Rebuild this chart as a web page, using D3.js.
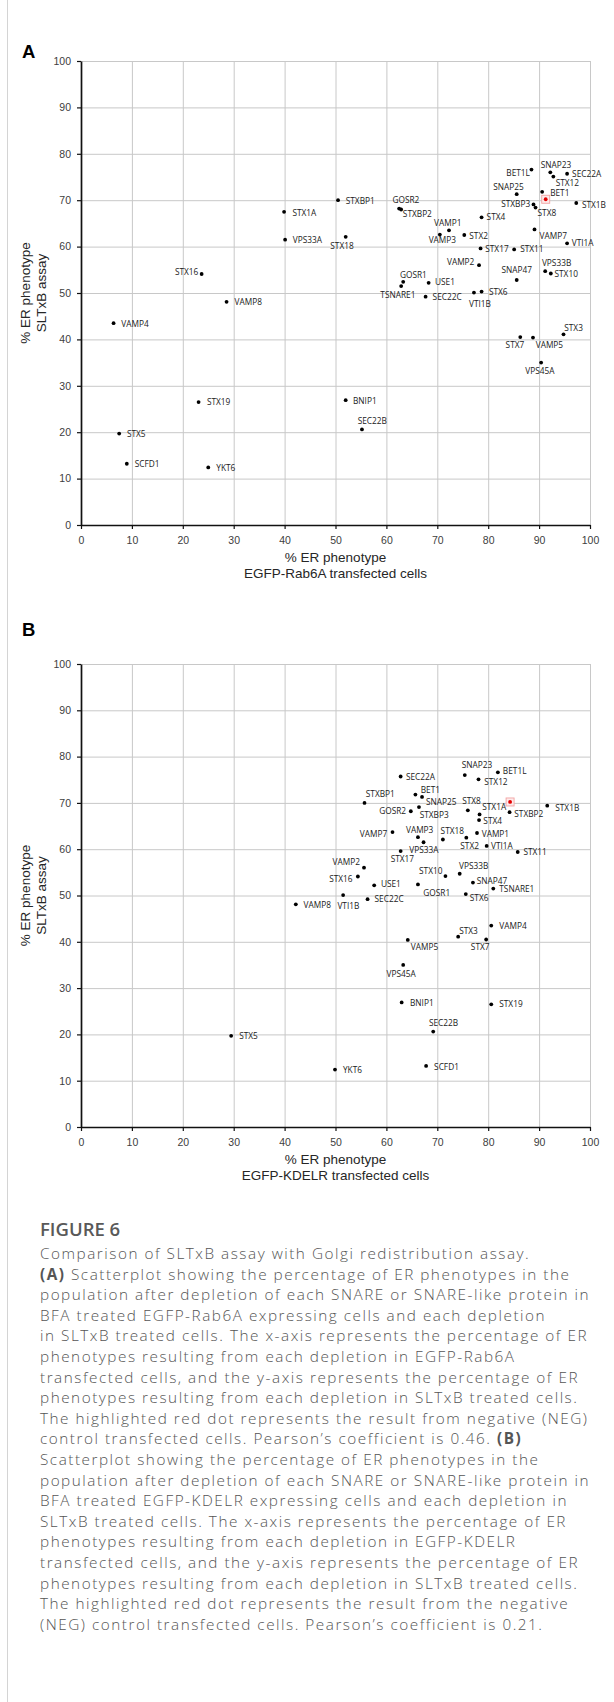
<!DOCTYPE html>
<html><head><meta charset="utf-8">
<script src="https://cdn.jsdelivr.net/npm/d3@7"></script>
<style>body{margin:0;background:#fff} svg{display:block}</style>
</head><body>
<svg id="fig" width="614" height="1702"></svg>
<script>
// ---------- data ----------
const genes = ["BET1L","SNAP23","STX12","SEC22A","SNAP25","BET1","NEG","STXBP3","STX8","STX1B","STXBP1","GOSR2","STXBP2","STX4","VAMP1","VAMP3","STX2","VAMP7","VTI1A","STX18","STX17","STX11","VAMP2","VPS33B","STX10","SNAP47","GOSR1","TSNARE1","USE1","SEC22C","VTI1B","STX6","STX3","STX7","VAMP5","VPS45A","BNIP1","SEC22B","STX1A","VPS33A","STX16","VAMP8","VAMP4","STX19","STX5","SCFD1","YKT6"];
// % ER phenotype, SLTxB assay (y, both panels)
const sltxb = [76.6,76.0,75.1,75.7,71.3,71.8,70.2,69.1,68.4,69.4,70.0,68.2,68.0,66.3,63.5,62.6,62.5,63.7,60.7,62.1,59.6,59.4,56.0,54.7,54.2,52.8,52.4,51.5,52.2,49.2,50.1,50.3,41.1,40.5,40.4,35.0,26.9,20.6,67.5,61.5,54.1,48.1,43.5,26.5,19.7,13.2,12.4];
// % ER phenotype, EGFP-Rab6A transfected cells (x, panel A)
const rab6a = [88.5,92.2,92.8,95.5,85.6,90.6,91.3,88.9,89.3,97.3,50.5,62.5,62.9,78.7,72.3,70.5,75.3,89.1,95.5,52.0,78.5,85.1,78.2,91.2,92.3,85.6,63.3,62.9,68.3,67.7,77.2,78.7,94.8,86.3,88.8,90.4,52.0,55.2,39.9,40.1,23.7,28.6,6.4,23.1,7.5,9.0,25.0];
// % ER phenotype, EGFP-KDELR transfected cells (x, panel B)
const kdelr = [81.9,75.4,78.1,62.8,67.0,65.7,84.3,66.4,76.0,91.6,55.7,64.8,84.2,78.2,77.8,66.2,75.7,61.2,79.7,71.1,62.8,85.8,55.6,74.4,71.6,77.0,66.2,81.0,57.6,56.3,51.5,75.6,74.1,79.6,64.2,63.3,63.0,69.2,78.3,67.3,54.4,42.2,80.6,80.6,29.5,67.8,49.9];
const controlName = "NEG";
const tickValues = [0,10,20,30,40,50,60,70,80,90,100];

// ---------- label placement (anchor, dx, dy relative to the dot) ----------
const placeA = {
  BET1L:["end",-1.5,3.3], SNAP23:["middle",5.7,-7.7], STX12:["start",2.3,6.5], SEC22A:["start",5,0],
  SNAP25:["middle",-8.3,-7.3], BET1:["start",8,0.7], STXBP3:["end",-3.3,0], STX8:["start",2,5],
  STX1B:["start",5.7,2.3], STXBP1:["start",7.7,0.3], GOSR2:["start",-6.7,-8.3], STXBP2:["start",1.7,4.3],
  STX4:["start",5,0], VAMP1:["middle",-1.3,-7.3], VAMP3:["middle",2.5,5], STX2:["start",5,0.7],
  VAMP7:["start",5,6.3], VTI1A:["start",4.7,0], STX18:["middle",-3.7,9], STX17:["start",4.7,0.7],
  STX11:["start",6,0], VAMP2:["end",-4.7,-2.7], VPS33B:["start",-3.3,-8], STX10:["start",3.7,0.7],
  SNAP47:["middle",0,-10], GOSR1:["start",-3.3,-7], TSNARE1:["middle",-3.3,9.3], USE1:["start",6.3,-0.3],
  SEC22C:["start",7,0], VTI1B:["middle",6,11.3], STX6:["start",7.3,0.7], STX3:["start",0.7,-6],
  STX7:["end",4,7.7], VAMP5:["start",2.7,7], VPS45A:["middle",-1.2,8.7], BNIP1:["start",7.3,1],
  SEC22B:["start",-4.3,-8.3], STX1A:["start",8.3,0.7], VPS33A:["start",7.7,0.3], STX16:["end",-3.3,-2],
  VAMP8:["start",8,0.3], VAMP4:["start",7.7,0.7], STX19:["start",8.3,0.3], STX5:["start",7.7,0.3],
  SCFD1:["start",8,0], YKT6:["start",8,0.7]
};
const placeB = {
  SEC22A:["start",5.3,0.7], SNAP23:["start",-3,-9.7], BET1L:["start",5,-1.3], STX12:["start",5.7,2.7],
  STXBP1:["start",1.3,-9.3], BET1:["start",5.3,-5], SNAP25:["start",4,4.7], STX1B:["start",8,2.3],
  STXBP2:["start",4.7,2], STX8:["start",-5.7,-9.3], STX1A:["start",2.7,-7], GOSR2:["end",-4.7,0],
  STXBP3:["start",0.7,8.3], STX4:["start",4.3,1], VAMP7:["end",-5.3,1.7], VAMP1:["start",4.7,0.7],
  VAMP3:["start",-12,-7], STX18:["start",-2.3,-8.3], STX2:["start",-6,8.7], VTI1A:["start",4.3,0],
  STX11:["start",5.7,-0.3], VPS33A:["start",-14.3,8], STX17:["start",-10,8], VAMP2:["end",-4,-5.3],
  STX16:["end",-5.3,2.3], STX10:["end",-3,-5], VPS33B:["start",-0.7,-7.7], SNAP47:["start",3.7,-2],
  USE1:["start",6.7,-1], GOSR1:["start",5.3,8.3], TSNARE1:["start",6,0.3], STX6:["start",4,4],
  VTI1B:["start",-5.7,11.3], VAMP8:["start",7.7,0.3], SEC22C:["start",7,-0.3], VAMP4:["start",8,0.3],
  STX3:["start",1,-5.7], STX7:["start",-15.3,8], VAMP5:["start",3,6.7], VPS45A:["start",-16.7,8.7],
  BNIP1:["start",8.3,0.7], STX19:["start",8,0], SEC22B:["start",-4.3,-9], YKT6:["start",8,0.7],
  SCFD1:["start",8,1], STX5:["start",8,0.3]
};

const captionTitle = "FIGURE 6";
const captionLines = [
  [["Comparison of SLTxB assay with Golgi redistribution assay.",0]],
  [["(A)",1],[" Scatterplot showing the percentage of ER phenotypes in the",0]],
  [["population after depletion of each SNARE or SNARE-like protein in",0]],
  [["BFA treated EGFP-Rab6A expressing cells and each depletion",0]],
  [["in SLTxB treated cells. The x-axis represents the percentage of ER",0]],
  [["phenotypes resulting from each depletion in EGFP-Rab6A",0]],
  [["transfected cells, and the y-axis represents the percentage of ER",0]],
  [["phenotypes resulting from each depletion in SLTxB treated cells.",0]],
  [["The highlighted red dot represents the result from negative (NEG)",0]],
  [["control transfected cells. Pearson\u2019s coefficient is 0.46. ",0],["(B)",1]],
  [["Scatterplot showing the percentage of ER phenotypes in the",0]],
  [["population after depletion of each SNARE or SNARE-like protein in",0]],
  [["BFA treated EGFP-KDELR expressing cells and each depletion in",0]],
  [["SLTxB treated cells. The x-axis represents the percentage of ER",0]],
  [["phenotypes resulting from each depletion in EGFP-KDELR",0]],
  [["transfected cells, and the y-axis represents the percentage of ER",0]],
  [["phenotypes resulting from each depletion in SLTxB treated cells.",0]],
  [["The highlighted red dot represents the result from the negative",0]],
  [["(NEG) control transfected cells. Pearson\u2019s coefficient is 0.21.",0]]
];

// ---------- drawing ----------
const svg = d3.select("#fig");
svg.append("line").attr("x1",7.5).attr("x2",7.5).attr("y1",0).attr("y2",1702)
   .attr("stroke","#d4d4d4").attr("stroke-width",1);

const axisFont = "'Liberation Sans', Arial, sans-serif";
const labelFont = "'Open Sans', 'Noto Sans', sans-serif";

function panel(opt){
  const left = 81, right = 590, top = opt.top, bottom = opt.bottom;
  const x = d3.scaleLinear().domain([0,100]).range([left,right]);
  const y = d3.scaleLinear().domain([0,100]).range([bottom,top]);
  const g = svg.append("g");

  // grid
  g.append("g").attr("transform",`translate(0,${bottom})`)
    .call(d3.axisBottom(x).tickValues(tickValues).tickSize(-(bottom-top)).tickFormat(""))
    .call(s=>s.select(".domain").remove())
    .selectAll("line").attr("stroke","#c8c8c8").attr("stroke-width",1);
  g.append("g").attr("transform",`translate(${left},0)`)
    .call(d3.axisLeft(y).tickValues(tickValues).tickSize(-(right-left)).tickFormat(""))
    .call(s=>s.select(".domain").remove())
    .selectAll("line").attr("stroke","#c8c8c8").attr("stroke-width",1);

  // axes
  const ya = g.append("g").attr("transform",`translate(${left},0)`)
    .call(d3.axisLeft(y).tickValues(tickValues).tickSize(4).tickSizeOuter(0).tickPadding(6));
  const xa = g.append("g").attr("transform",`translate(0,${bottom})`)
    .call(d3.axisBottom(x).tickValues(tickValues).tickSize(4).tickSizeOuter(0).tickPadding(7.5));
  [ya,xa].forEach(a=>{
    a.select(".domain").attr("stroke","#111").attr("stroke-width",1.7);
    a.selectAll(".tick line").attr("stroke","#111").attr("stroke-width",1.2);
    a.selectAll(".tick text").attr("font-family",axisFont).attr("font-size",10.5).attr("fill","#404040");
  });

  // axis titles
  const midX = (left+right)/2, midY = (top+bottom)/2;
  const xt = g.append("text").attr("font-family",axisFont).attr("font-size",13.5).attr("fill","#262626")
    .attr("text-anchor","middle");
  xt.append("tspan").attr("x",midX).attr("y",bottom+37).text("% ER phenotype");
  xt.append("tspan").attr("x",midX).attr("y",bottom+53).text(opt.xTitle);
  const yt = g.append("g").attr("transform",`translate(0,${midY}) rotate(-90)`);
  yt.append("text").attr("font-family",axisFont).attr("font-size",13.5).attr("fill","#262626")
    .attr("text-anchor","middle").attr("x",0).attr("y",30).text("% ER phenotype");
  yt.append("text").attr("font-family",axisFont).attr("font-size",13.5).attr("fill","#262626")
    .attr("text-anchor","middle").attr("x",0).attr("y",45.5).text("SLTxB assay");

  // panel letter
  g.append("text").attr("x",22).attr("y",opt.letterY).attr("font-family",axisFont)
    .attr("font-weight","bold").attr("font-size",18.5).attr("fill","#000").text(opt.letter);

  // points
  const data = genes.map((n,i)=>({name:n, x:opt.xs[i], y:sltxb[i]}));
  const ctrl = data.filter(d=>d.name===controlName);
  g.selectAll("rect.ctrl").data(ctrl).join("rect").attr("class","ctrl")
    .attr("x",d=>x(d.x)-4).attr("y",d=>y(d.y)-4).attr("width",8).attr("height",8)
    .attr("fill","#fdeaea").attr("stroke","#f2a3a3").attr("stroke-width",0.9);
  g.selectAll("circle.pt").data(data).join("circle").attr("class","pt")
    .attr("cx",d=>x(d.x)).attr("cy",d=>y(d.y)).attr("r",1.9)
    .attr("fill",d=>d.name===controlName?"#e30000":"#000");
  g.selectAll("text.lbl").data(data.filter(d=>opt.place[d.name])).join("text").attr("class","lbl")
    .attr("font-family",labelFont).attr("font-size",8.3).attr("fill","#1a1a1a")
    .attr("text-anchor",d=>opt.place[d.name][0])
    .attr("x",d=>x(d.x)+opt.place[d.name][1])
    .attr("y",d=>y(d.y)+opt.place[d.name][2]+3)
    .text(d=>d.name);
}

panel({top:61, bottom:525, xs:rab6a, xTitle:"EGFP-Rab6A transfected cells", letter:"A", letterY:58, place:placeA});
panel({top:664, bottom:1127, xs:kdelr, xTitle:"EGFP-KDELR transfected cells", letter:"B", letterY:636, place:placeB});

// caption
const capFont = "'Open Sans', 'Noto Sans', sans-serif";
svg.append("text").attr("x",40).attr("y",1236).attr("font-family",capFont).attr("font-weight",600)
  .attr("font-size",18.5).attr("fill","#595959").text(captionTitle);
const cap = svg.append("g");
const capSize = 15.3;
const lines = cap.selectAll("text").data(captionLines).join("text")
  .attr("x",40).attr("y",(d,i)=>1259+i*20.6)
  .attr("font-family",capFont).attr("font-weight",300).attr("font-size",capSize).attr("fill","#555");
lines.selectAll("tspan").data(d=>d).join("tspan")
  .attr("font-weight",d=>d[1]?700:300).text(d=>d[0]);
// widen letter spacing so the longest line spans the text column width
const refNode = lines.filter((d,i)=>i===2).node();
const w0 = refNode.getComputedTextLength();
const nChars = captionLines[2][0][0].length;
lines.attr("letter-spacing", Math.max(0,(550-w0)/nChars));
</script>
</body></html>
